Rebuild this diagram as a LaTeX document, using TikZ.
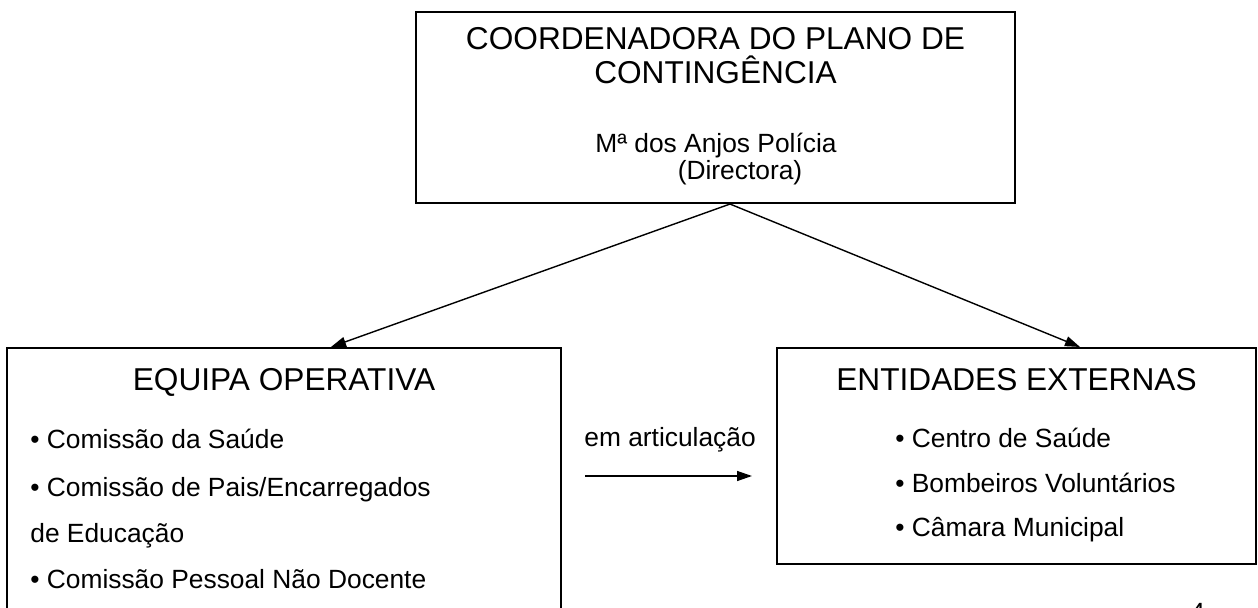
\documentclass[tikz,border=0pt]{standalone}
\usepackage{fontspec}
\setmainfont{Liberation Sans}
\usetikzlibrary{arrows.meta,positioning}
\newcommand{\titlesize}{\fontsize{18}{21}\selectfont}
\newcommand{\bodysize}{\fontsize{15}{18}\selectfont}

\begin{document}
\begin{tikzpicture}[
  x=0.02cm,y=-0.02cm,
  box/.style={draw,line width=1.2pt,inner sep=0pt},
  head/.style={font=\titlesize,inner sep=0pt,anchor=base},
  item/.style={font=\bodysize,inner sep=0pt,anchor=base west},
  arr/.style={-{Triangle[length=3mm,width=2mm]},line width=0.8pt}
]
\useasboundingbox (0,0) rectangle (1258,608);
\clip (0,0) rectangle (1258,608);
% boxes
\node[box,minimum width=11.98cm,minimum height=3.82cm] (coord) at (715.5,107.5) {};
\node[box,minimum width=11.08cm,minimum height=5.84cm] (ops) at (284,494) {};
\node[box,minimum width=9.58cm,minimum height=4.32cm] (ext) at (1016.5,456) {};
% top box
\node[head] (coordt1) at (715.5,50) {COORDENADORA DO PLANO DE};
\node[head] (coordt2) at (715.5,84) {CONTINGÊNCIA};
\node[item,anchor=base] (nome) at (716,153) {Mª dos Anjos Polícia};
\node[item,anchor=base] (cargo) at (740,179) {(Directora)};
% equipa operativa
\node[head] (opst) at (284,390) {EQUIPA OPERATIVA};
\node[item] (ops1) at (30,448) {• Comissão da Saúde};
\node[item] (ops2) at (30,496) {• Comissão de Pais/Encarregados};
\node[item] (ops3) at (30,542) {de Educação};
\node[item] (ops4) at (30,588) {• Comissão Pessoal Não Docente};
% entidades externas
\node[head] (extt) at (1016.5,390) {ENTIDADES EXTERNAS};
\node[item] (ext1) at (895,447) {• Centro de Saúde};
\node[item] (ext2) at (895,492) {• Bombeiros Voluntários};
\node[item] (ext3) at (895,536) {• Câmara Municipal};
% ligacao
\node[item] (art) at (584,446) {em articulação};
\coordinate (mid) at (668,476);
\node[item] (pagina) at (1190,621) {4};
\draw[arr] ([xshift=0.29cm]coord.south) -- ([xshift=0.94cm]ops.north);
\draw[arr] ([xshift=0.29cm]coord.south) -- ([xshift=1.27cm]ext.north);
\draw[arr,shorten <=0.46cm,shorten >=0.48cm] (ops.east |- mid) -- (ext.west |- mid);
\end{tikzpicture}
\end{document}
